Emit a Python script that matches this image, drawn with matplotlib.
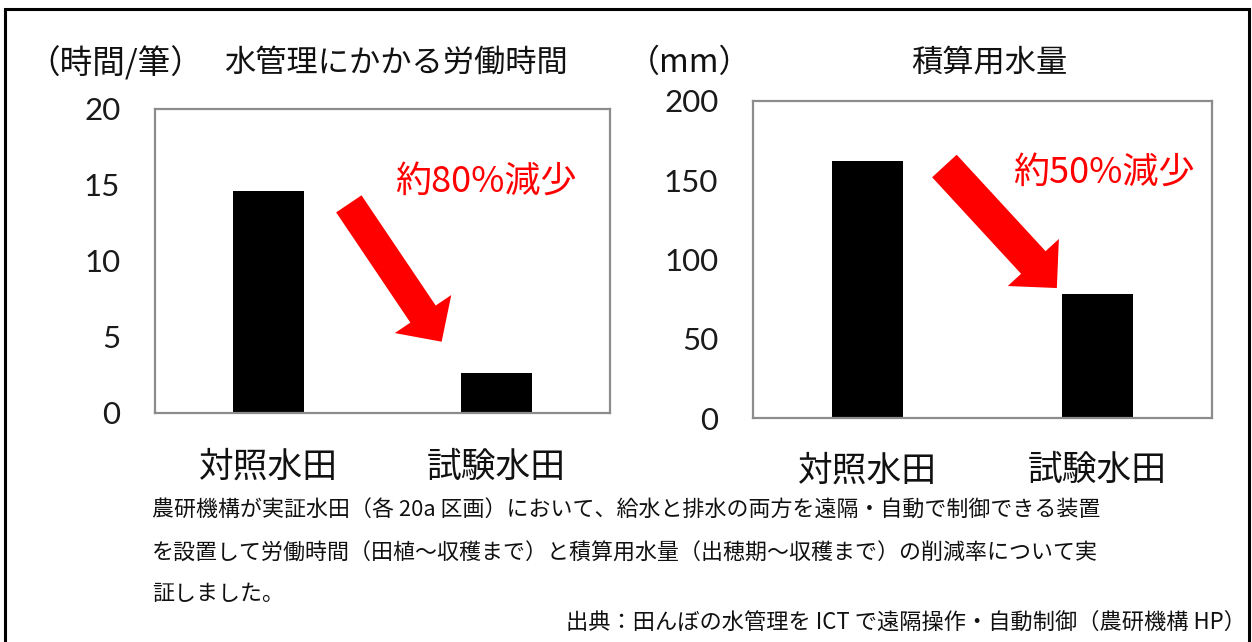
import matplotlib
matplotlib.use("Agg")
import matplotlib.pyplot as plt
from matplotlib.patches import FancyArrowPatch, Rectangle, ArrowStyle

plt.rcParams['font.family'] = ['Noto Sans CJK JP', 'DejaVu Sans']

# ---- data ----
categories = ['対照水田', '試験水田']
labor_hours = [14.6, 2.6]          # 時間/筆
water_mm = [162, 78]               # mm
labor_ticks = [0, 5, 10, 15, 20]
water_ticks = [0, 50, 100, 150, 200]
labor_title = '水管理にかかる労働時間'
water_title = '積算用水量'
labor_unit = '（時間/筆）'
water_unit = '（mm）'
labor_note = '約80%減少'
water_note = '約50%減少'
caption_lines = [
    '農研機構が実証水田（各 20a 区画）において、給水と排水の両方を遠隔・自動で制御できる装置',
    'を設置して労働時間（田植～収穫まで）と積算用水量（出穂期～収穫まで）の削減率について実',
    '証しました。',
]
source_text = '出典：田んぼの水管理を ICT で遠隔操作・自動制御（農研機構 HP）'

W, H = 1252, 642
fig = plt.figure(figsize=(W / 100, H / 100), dpi=100)
fig.patch.set_facecolor('white')


def px_rect(x0, y_top, x1, y_bot):
    return [x0 / W, 1 - y_bot / H, (x1 - x0) / W, (y_bot - y_top) / H]


def setup(ax, values, ticks, ymax, xpad):
    x = range(len(categories))
    ax.bar(x, values, width=0.31, color='black', zorder=2)
    ax.set_xlim(-0.5, 1.5)
    ax.set_ylim(0, ymax)
    ax.set_yticks(ticks)
    ax.set_yticklabels([str(t) for t in ticks], fontsize=22.5,
                       family=['Lato', 'DejaVu Sans'], color='#1a1a1a')
    ax.set_xticks(list(x))
    ax.set_xticklabels(categories, fontsize=25, color='#111111')
    ax.tick_params(axis='y', length=0, pad=25)
    ax.tick_params(axis='x', length=0, pad=xpad)
    for s in ax.spines.values():
        s.set_color('#8c8c8c')
        s.set_linewidth(1.6)


ax1 = fig.add_axes(px_rect(155, 109, 610, 413))
setup(ax1, labor_hours, labor_ticks, 20, 26.5)
ax2 = fig.add_axes(px_rect(753, 101, 1212, 418))
setup(ax2, water_mm, water_ticks, 200, 25.5)

# titles and units
fig.text(396 / W, 1 - 63 / H, labor_title, fontsize=22.5, ha='center', va='center', color='#111111')
fig.text(115 / W, 1 - 63 / H, labor_unit, fontsize=23.5, ha='center', va='center', color='#111111')
fig.text(989 / W, 1 - 63 / H, water_title, fontsize=22.5, ha='center', va='center', color='#111111')
fig.text(690 / W, 1 - 63 / H, water_unit, fontsize=23, ha='center', va='center', color='#111111')

# red annotations
ax1.text(0.727, 0.76, labor_note, transform=ax1.transAxes, fontsize=26,
         color='#ff0000', ha='center', va='center')
ax2.text(0.764, 0.773, water_note, transform=ax2.transAxes, fontsize=26,
         color='#ff0000', ha='center', va='center')

arr1 = FancyArrowPatch((0.426, 0.688), (0.630, 0.2345), transform=ax1.transAxes,
                       arrowstyle=ArrowStyle.Simple(head_length=24, head_width=49, tail_width=22),
                       mutation_scale=1, shrinkA=0, shrinkB=0, color='#ff0000', lw=0, zorder=3)
ax1.add_patch(arr1)
arr2 = FancyArrowPatch((0.417, 0.795), (0.662, 0.410), transform=ax2.transAxes,
                       arrowstyle=ArrowStyle.Simple(head_length=25, head_width=50, tail_width=24),
                       mutation_scale=1, shrinkA=0, shrinkB=0, color='#ff0000', lw=0, zorder=3)
ax2.add_patch(arr2)

# caption
for line, y in zip(caption_lines, [511, 554, 594]):
    fig.text(152 / W, 1 - y / H, line, fontsize=15.8, ha='left', va='center', color='#111111')
fig.text(566 / W, 1 - 622 / H, source_text, fontsize=16, ha='left', va='center', color='#111111')

# outer frame
fig.patches.append(Rectangle((5 / W, -0.05), (1248.5 - 5) / W, 1.05 - 9 / H,
                             transform=fig.transFigure, fill=False, ec='black', lw=2.2))

fig.savefig('out.png', dpi=100)
